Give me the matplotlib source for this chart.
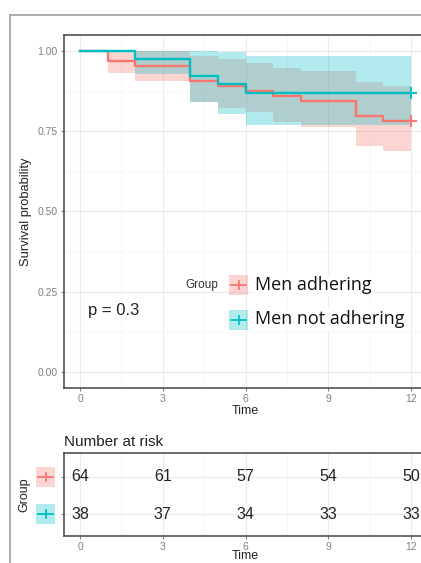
import matplotlib
matplotlib.use("Agg")
import matplotlib.pyplot as plt
from matplotlib.lines import Line2D
from matplotlib.patches import Rectangle
from matplotlib.transforms import blended_transform_factory

plt.rcParams['font.family'] = ['Liberation Sans', 'DejaVu Sans']

# Kaplan-Meier steps
red_t = [0, 1, 2, 4, 5, 6, 7, 8, 10, 11, 12]
red_s = [1.0, 0.969, 0.953, 0.906, 0.891, 0.875, 0.859, 0.844, 0.797, 0.781, 0.781]
red_lo = [1.0, 0.930, 0.905, 0.840, 0.820, 0.808, 0.779, 0.762, 0.704, 0.688, 0.688]
red_hi = [1.0, 1.0, 1.0, 0.984, 0.974, 0.961, 0.946, 0.936, 0.902, 0.891, 0.891]

cyan_t = [0, 2, 4, 5, 6, 12]
cyan_s = [1.0, 0.974, 0.921, 0.895, 0.868, 0.868]
cyan_lo = [1.0, 0.928, 0.840, 0.803, 0.769, 0.769]
cyan_hi = [1.0, 1.0, 1.0, 0.995, 0.982, 0.982]

groups = ["Men adhering", "Men not adhering"]
colors = ["#F8766D", "#00BFC4"]

risk_times = [0, 3, 6, 9, 12]
risk_red = [64, 61, 57, 54, 50]
risk_cyan = [38, 37, 34, 33, 33]

W, H = 421, 563
def px(x, y):
    return x / W, 1 - y / H

fig = plt.figure(figsize=(W / 100, H / 100), dpi=100)

# outer frame of the screenshot
fig.add_artist(Line2D([10 / W, 10 / W], [0, 1 - 15 / H], transform=fig.transFigure, color="#a6a6a6", lw=1.3))
fig.add_artist(Line2D([10 / W, 1], [1 - 15 / H, 1 - 15 / H], transform=fig.transFigure, color="#a6a6a6", lw=1.3))

tick_col = "#808080"
spine_col = "#444444"

def style_axes(ax):
    for s in ax.spines.values():
        s.set_color(spine_col)
        s.set_linewidth(1.1)
    ax.set_xlim(-0.6, 12.6)
    ax.set_xticks(risk_times)
    ax.set_xticks([1.5, 4.5, 7.5, 10.5], minor=True)
    ax.grid(True, which="major", color="#ebebeb", lw=0.8)
    ax.grid(True, which="minor", color="#f3f3f3", lw=0.5)
    ax.set_axisbelow(True)
    ax.tick_params(which="major", length=2.5, width=0.8, color=tick_col, labelcolor=tick_col, labelsize=7.5, pad=1.5)
    ax.tick_params(which="minor", length=0)

# main survival plot
ax = fig.add_axes([63.5 / W, 1 - 388 / H, 364 / W, 353.5 / H])
style_axes(ax)
ax.set_ylim(-0.05, 1.05)
ax.set_yticks([0, 0.25, 0.5, 0.75, 1.0])
ax.set_yticklabels(["0.00", "0.25", "0.50", "0.75", "1.00"])
ax.set_yticks([0.125, 0.375, 0.625, 0.875], minor=True)

for t, s, lo, hi, c in [(red_t, red_s, red_lo, red_hi, colors[0]),
                        (cyan_t, cyan_s, cyan_lo, cyan_hi, colors[1])]:
    ax.fill_between(t, lo, hi, step="post", color=c, alpha=0.3, lw=0)
    ax.step(t, s, where="post", color=c, lw=1.7)
    ax.plot([t[-1]], [s[-1]], marker="+", color=c, ms=8, mew=1.4)

ax.set_xlabel("Time", fontsize=9, color="#222222", labelpad=1)
ax.set_ylabel("Survival probability", fontsize=9.3, color="#222222", labelpad=4)
ax.text(0.3, 0.19, "p = 0.3", fontsize=12, color="#222222", va="center")

# legend
fig.text(*px(185, 285), "Group", fontsize=8.5, color="#333333", va="center")
for i, (g, c) in enumerate(zip(groups, colors)):
    yc = [285, 319.5][i]
    x0, y0 = px(229, yc + 10)
    fig.add_artist(Rectangle((x0, y0), 19 / W, 20 / H, transform=fig.transFigure,
                             facecolor=c, alpha=0.3, lw=0))
    fig.add_artist(Line2D([px(231, 0)[0], px(246, 0)[0]], [px(0, yc)[1]] * 2,
                          transform=fig.transFigure, color=c, lw=1.3))
    fig.add_artist(Line2D([px(238.5, 0)[0]] * 2, [px(0, yc - 4)[1], px(0, yc + 4)[1]],
                          transform=fig.transFigure, color=c, lw=1.3))
    fig.text(*px(255, yc), g, fontsize=13, family="Open Sans", color="#111111",
             va="center", bbox=dict(facecolor="white", edgecolor="none", pad=1.5))

# risk table
axt = fig.add_axes([63.5 / W, 1 - 536 / H, 364 / W, 83.3 / H])
style_axes(axt)
axt.set_ylim(0.42, 2.64)
axt.set_yticks([2, 1])
axt.set_yticklabels(["", ""])
for i, vals in enumerate([risk_red, risk_cyan]):
    for t, v in zip(risk_times, vals):
        axt.text(t, 2 - i, str(v), fontsize=11.5, color="#222222", ha="center", va="center")
axt.set_xlabel("Time", fontsize=9, color="#222222", labelpad=-1)
axt.set_ylabel("Group", fontsize=9, color="#222222", labelpad=20)
axt.set_title("Number at risk", fontsize=11, color="#222222", loc="left", pad=5)

bt = blended_transform_factory(fig.transFigure, axt.transData)
for i, c in enumerate(colors):
    yc = 2 - i
    axt.add_artist(Rectangle((36 / W, yc - 0.27), 19 / W, 0.54, transform=bt,
                             facecolor=c, alpha=0.3, lw=0, clip_on=False))
    axt.add_artist(Line2D([38 / W, 53 / W], [yc, yc], transform=bt, color=c, lw=1.3, clip_on=False))
    axt.add_artist(Line2D([45.5 / W, 45.5 / W], [yc - 0.11, yc + 0.11], transform=bt, color=c, lw=1.3, clip_on=False))

fig.savefig("out.png", dpi=100)
